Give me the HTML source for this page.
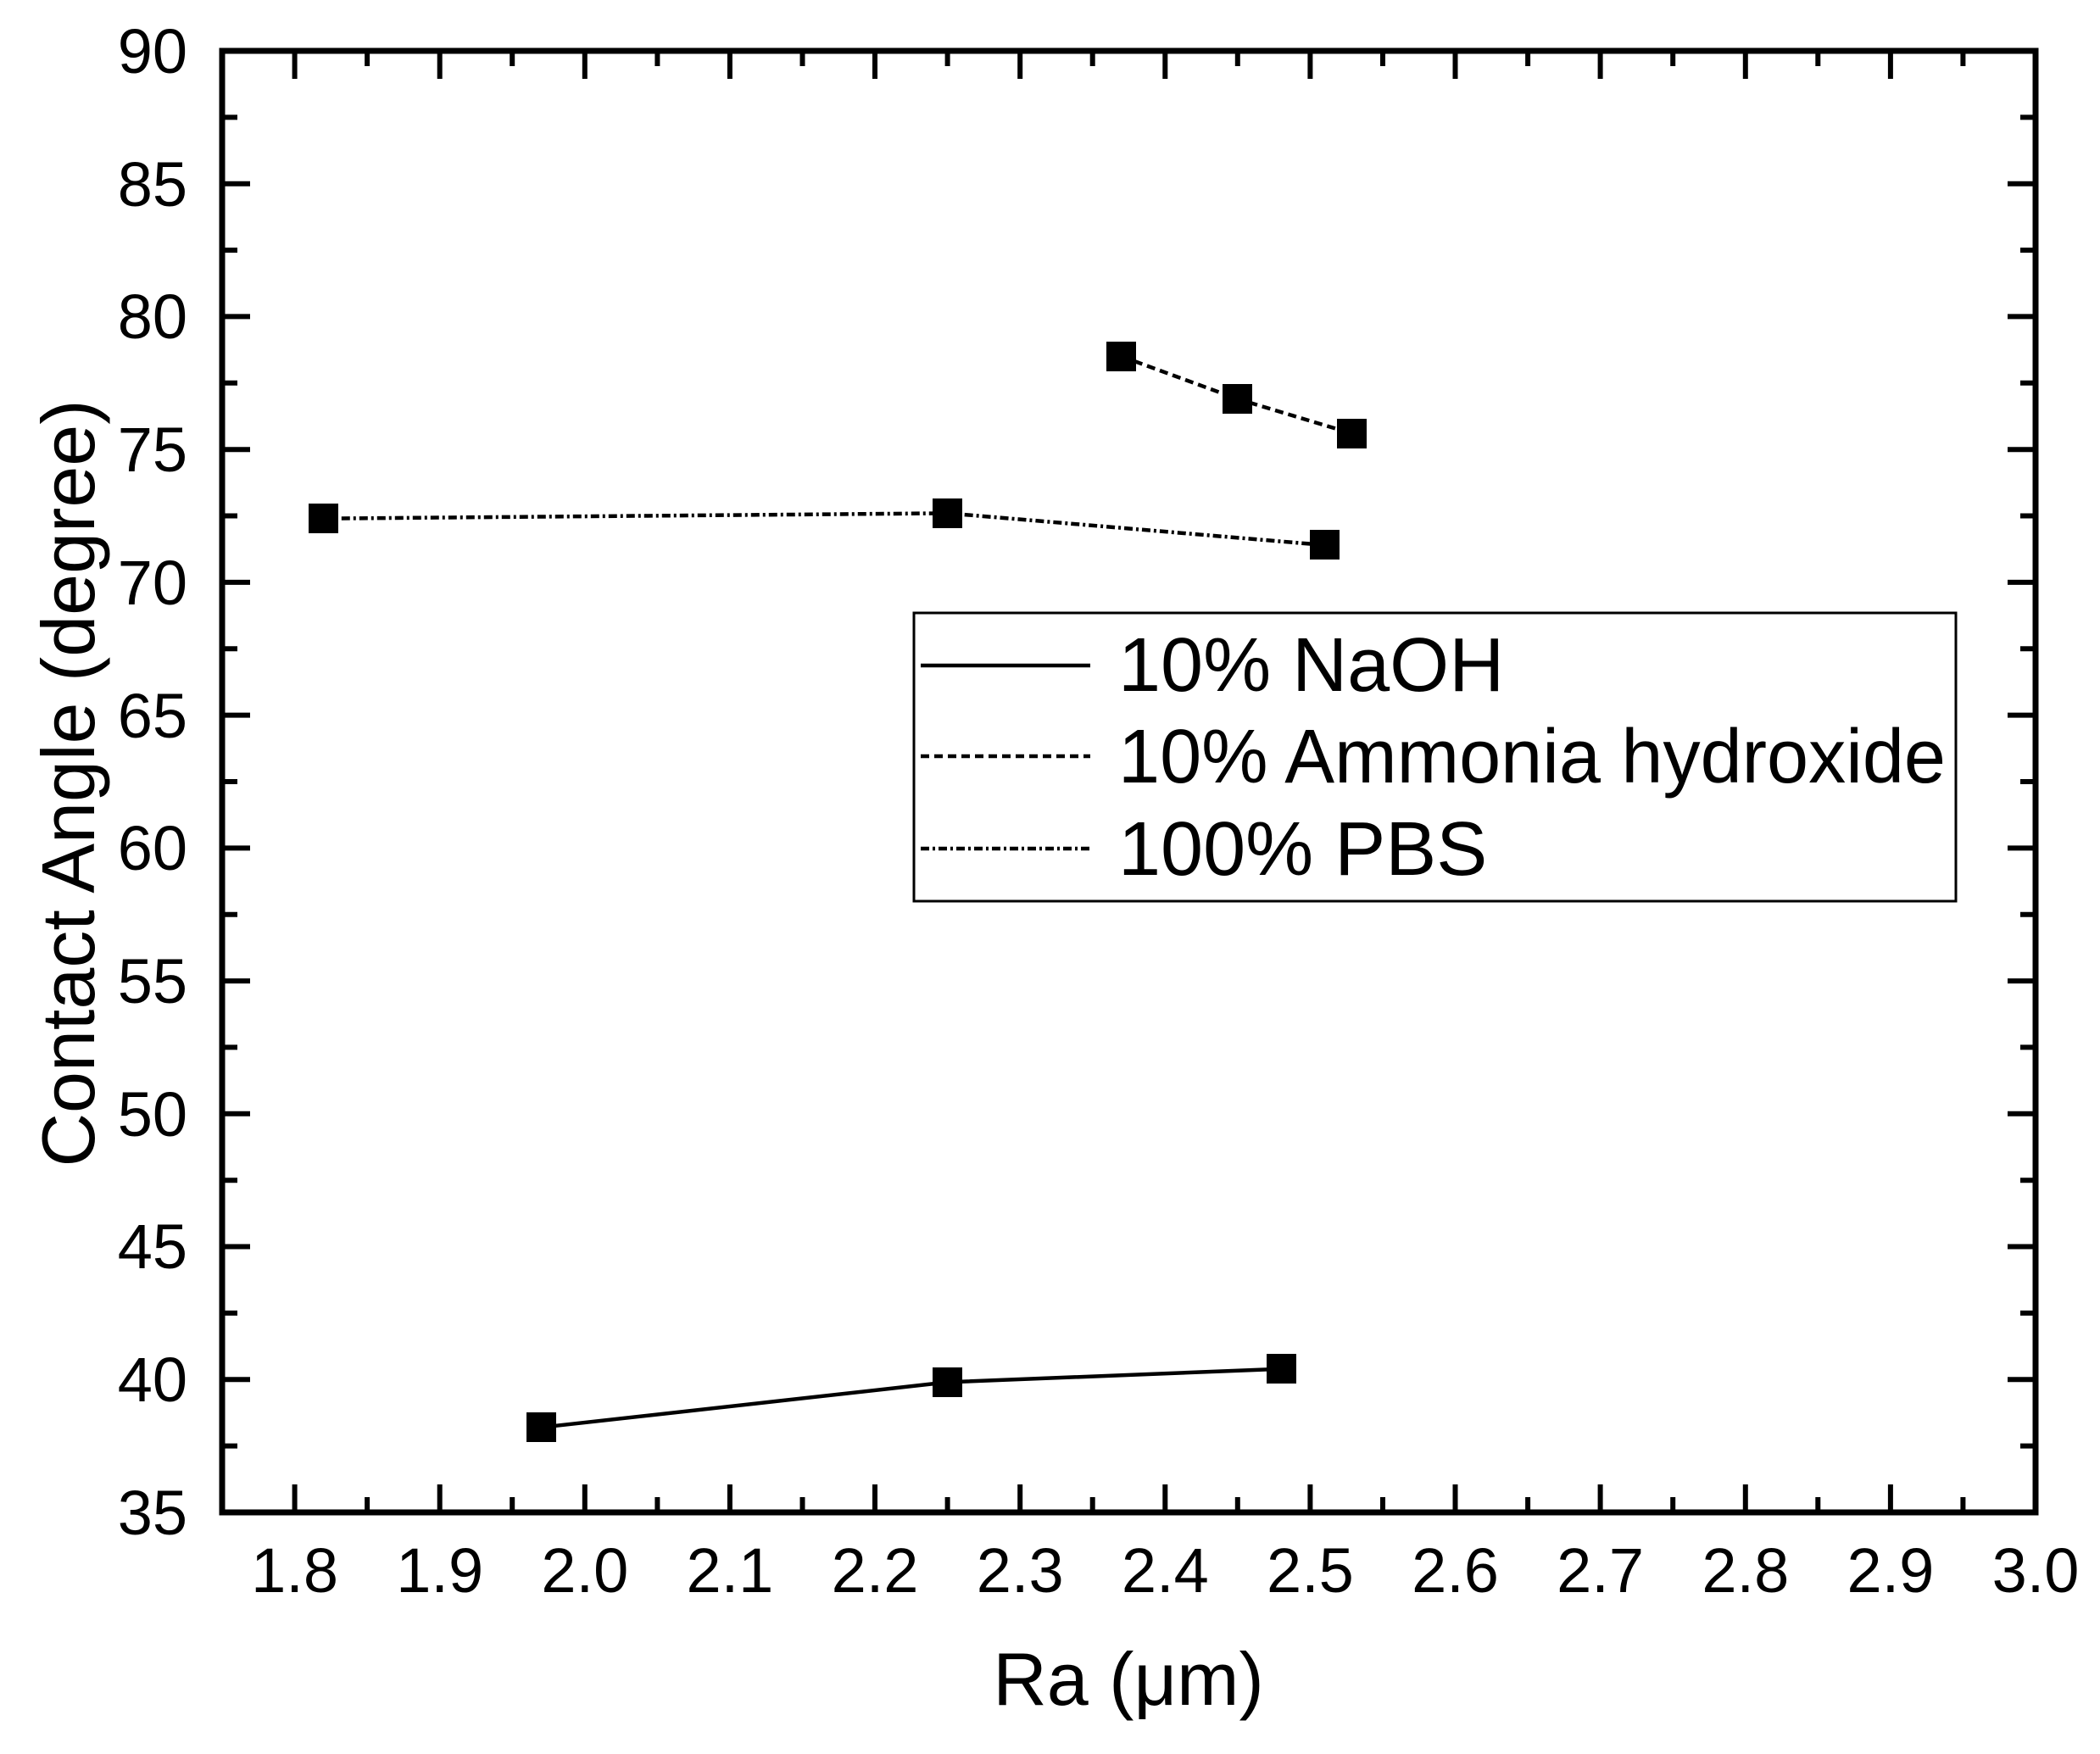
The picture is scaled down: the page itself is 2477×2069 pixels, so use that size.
<!DOCTYPE html>
<html><head><meta charset="utf-8"><style>html,body{margin:0;padding:0;background:#fff}</style></head><body>
<svg width="2477" height="2064" viewBox="0 0 2477 2064" xmlns="http://www.w3.org/2000/svg" font-family="Liberation Sans, Arial, sans-serif">
<rect width="2477" height="2064" fill="#fff"/>
<g stroke="#000" stroke-width="6">
<path d="M347.6 1784v-33M518.7 1784v-33M689.8 1784v-33M860.9 1784v-33M1032 1784v-33M1203.2 1784v-33M1374.3 1784v-33M1545.4 1784v-33M1716.5 1784v-33M1887.6 1784v-33M2058.8 1784v-33M2229.9 1784v-33"/>
<path d="M433.1 1784v-18M604.2 1784v-18M775.4 1784v-18M946.5 1784v-18M1117.6 1784v-18M1288.7 1784v-18M1459.8 1784v-18M1631 1784v-18M1802.1 1784v-18M1973.2 1784v-18M2144.3 1784v-18M2315.4 1784v-18"/>
<path d="M347.6 60v33M518.7 60v33M689.8 60v33M860.9 60v33M1032 60v33M1203.2 60v33M1374.3 60v33M1545.4 60v33M1716.5 60v33M1887.6 60v33M2058.8 60v33M2229.9 60v33"/>
<path d="M433.1 60v18M604.2 60v18M775.4 60v18M946.5 60v18M1117.6 60v18M1288.7 60v18M1459.8 60v18M1631 60v18M1802.1 60v18M1973.2 60v18M2144.3 60v18M2315.4 60v18"/>
<path d="M262 1627.3h33M262 1470.5h33M262 1313.8h33M262 1157.1h33M262 1000.4h33M262 843.6h33M262 686.9h33M262 530.2h33M262 373.4h33M262 216.7h33"/>
<path d="M262 1705.6h18M262 1548.9h18M262 1392.2h18M262 1235.4h18M262 1078.7h18M262 922h18M262 765.3h18M262 608.5h18M262 451.8h18M262 295.1h18M262 138.4h18"/>
<path d="M2401 1627.3h-33M2401 1470.5h-33M2401 1313.8h-33M2401 1157.1h-33M2401 1000.4h-33M2401 843.6h-33M2401 686.9h-33M2401 530.2h-33M2401 373.4h-33M2401 216.7h-33"/>
<path d="M2401 1705.6h-18M2401 1548.9h-18M2401 1392.2h-18M2401 1235.4h-18M2401 1078.7h-18M2401 922h-18M2401 765.3h-18M2401 608.5h-18M2401 451.8h-18M2401 295.1h-18M2401 138.4h-18"/>
</g>
<rect x="262" y="60" width="2139" height="1724" fill="none" stroke="#000" stroke-width="7"/>
<g font-size="74" text-anchor="end" fill="#000">
<text x="221" y="1810">35</text><text x="221" y="1653">40</text><text x="221" y="1496">45</text><text x="221" y="1340">50</text><text x="221" y="1183">55</text><text x="221" y="1026">60</text><text x="221" y="870">65</text><text x="221" y="713">70</text><text x="221" y="556">75</text><text x="221" y="399">80</text><text x="221" y="243">85</text><text x="221" y="86">90</text>
</g>
<g font-size="74" text-anchor="middle" fill="#000">
<text x="347.6" y="1878">1.8</text><text x="518.7" y="1878">1.9</text><text x="689.8" y="1878">2.0</text><text x="860.9" y="1878">2.1</text><text x="1032" y="1878">2.2</text><text x="1203.2" y="1878">2.3</text><text x="1374.3" y="1878">2.4</text><text x="1545.4" y="1878">2.5</text><text x="1716.5" y="1878">2.6</text><text x="1887.6" y="1878">2.7</text><text x="2058.8" y="1878">2.8</text><text x="2229.9" y="1878">2.9</text><text x="2401" y="1878">3.0</text>
</g>
<text x="1331" y="2011" font-size="88" text-anchor="middle">Ra (μm)</text>
<text transform="translate(111 924) rotate(-90)" font-size="88" text-anchor="middle">Contact Angle (degree)</text>
<polyline points="638.5,1683.7 1117.6,1630.4 1511.2,1614.7" fill="none" stroke="#000" stroke-width="4.5"/>
<polyline points="1322.9,420.5 1459.8,470.6 1594.7,511.4" fill="none" stroke="#000" stroke-width="4.5" stroke-dasharray="10 6"/>
<polyline points="381.8,611.7 1117.6,605.4 1562.5,643" fill="none" stroke="#000" stroke-width="4.5" stroke-dasharray="10 4 3 4"/>
<g fill="#000">
<rect x="621" y="1666" width="35" height="35"/><rect x="1100" y="1613" width="35" height="35"/><rect x="1494" y="1597" width="35" height="35"/>
<rect x="1305" y="403" width="35" height="35"/><rect x="1442" y="453" width="35" height="35"/><rect x="1577" y="494" width="35" height="35"/>
<rect x="364" y="594" width="35" height="35"/><rect x="1100" y="588" width="35" height="35"/><rect x="1545" y="625" width="35" height="35"/>
</g>
<rect x="1078" y="723" width="1229" height="340" fill="#fff" stroke="#000" stroke-width="3"/>
<line x1="1086" y1="785" x2="1286" y2="785" stroke="#000" stroke-width="4.5"/>
<line x1="1086" y1="892" x2="1286" y2="892" stroke="#000" stroke-width="4.5" stroke-dasharray="10 6"/>
<line x1="1086" y1="1001" x2="1286" y2="1001" stroke="#000" stroke-width="4.5" stroke-dasharray="10 4 3 4"/>
<g font-size="90" fill="#000">
<text x="1319" y="815">10% NaOH</text>
<text x="1319" y="923" textLength="976" lengthAdjust="spacingAndGlyphs">10% Ammonia hydroxide</text>
<text x="1319" y="1032">100% PBS</text>
</g>
</svg>
</body></html>
